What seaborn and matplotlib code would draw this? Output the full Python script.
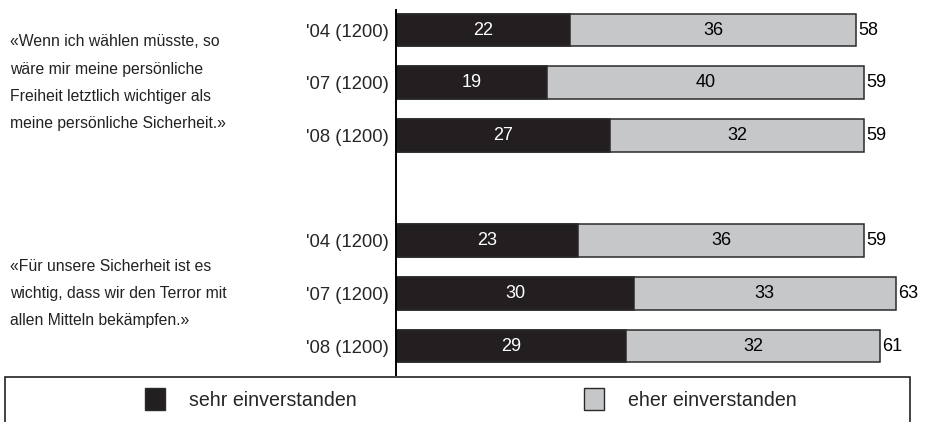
import matplotlib
matplotlib.use("Agg")
import matplotlib.pyplot as plt
import seaborn as sns
import pandas as pd
from matplotlib.patches import Rectangle

# chart data
row_labels = ["'04 (1200)", "'07 (1200)", "'08 (1200)", "'04 (1200)", "'07 (1200)", "'08 (1200)"]
row_pos = [0, 1, 2, 4, 5, 6]
sehr = [22, 19, 27, 23, 30, 29]
eher = [36, 40, 32, 36, 33, 32]
statements = [
    "«Wenn ich wählen müsste, so\nwäre mir meine persönliche\nFreiheit letztlich wichtiger als\nmeine persönliche Sicherheit.»",
    "«Für unsere Sicherheit ist es\nwichtig, dass wir den Terror mit\nallen Mitteln bekämpfen.»",
]
statement_pos = [1, 5]
legend_labels = ["sehr einverstanden", "eher einverstanden"]

dark = "#231f20"
grey = "#c6c7c8"

df = pd.DataFrame({"pos": row_pos, "sehr": sehr, "eher": eher})
df["total"] = df["sehr"] + df["eher"]

sns.set_theme(style="white")
plt.rcParams["font.family"] = ["Liberation Sans", "DejaVu Sans"]

fig = plt.figure(figsize=(9.29, 4.22), dpi=100)
ax = fig.add_axes([396 / 929, 47 / 422, 1 - 396 / 929, 365 / 422])

# grey bar = total, black bar drawn on top = "sehr"
sns.barplot(data=df, x="total", y="pos", orient="h", native_scale=True,
            color=grey, saturation=1, width=0.62, edgecolor="#2a2a2a",
            linewidth=1.1, ax=ax)
sns.barplot(data=df, x="sehr", y="pos", orient="h", native_scale=True,
            color=dark, saturation=1, width=0.62, edgecolor="#2a2a2a",
            linewidth=1.1, ax=ax)

ax.set_xlim(0, 533 / 7.93)
ax.set_ylim(6.55, -0.38)
ax.set_yticks(row_pos)
ax.set_yticklabels(row_labels, fontsize=13.3)
ax.tick_params(axis="y", length=0, pad=5)
ax.set_xticks([])
ax.set_xlabel("")
ax.set_ylabel("")
for side in ["top", "right", "bottom"]:
    ax.spines[side].set_visible(False)
ax.spines["left"].set_color("black")
ax.spines["left"].set_linewidth(1.4)

# value labels
for _, r in df.iterrows():
    ax.text(r["sehr"] / 2, r["pos"], f"{r['sehr']}", color="white",
            ha="center", va="center", fontsize=13)
    ax.text(r["sehr"] + r["eher"] / 2, r["pos"], f"{r['eher']}", color="black",
            ha="center", va="center", fontsize=13)
    ax.text(r["total"] + 0.3, r["pos"], f"{r['total']}", color="black",
            ha="left", va="center", fontsize=13)

# statements on the left
for txt, p in zip(statements, statement_pos):
    ax.annotate(txt, xy=(10 / 929, p), xycoords=("figure fraction", "data"),
                ha="left", va="center", fontsize=11.3, linespacing=2.02,
                color="#222222", annotation_clip=False)

# legend box
fig.patches.append(Rectangle((5 / 929, -0.05), 905 / 929, 0.05 + 45 / 422,
                             transform=fig.transFigure, fill=False,
                             edgecolor="#222222", linewidth=1.2))
handles = [Rectangle((0, 0), 1, 1, facecolor=dark, edgecolor="#2a2a2a"),
           Rectangle((0, 0), 1, 1, facecolor=grey, edgecolor="#2a2a2a")]
fig.legend(handles, legend_labels, ncol=2, frameon=False, fontsize=14.1,
           loc="center left", bbox_to_anchor=(145 / 929, 23 / 422),
           handlelength=1.0, handleheight=1.35, handletextpad=1.25,
           columnspacing=11.6, borderaxespad=0, borderpad=0)

fig.savefig("out.png", dpi=100)
